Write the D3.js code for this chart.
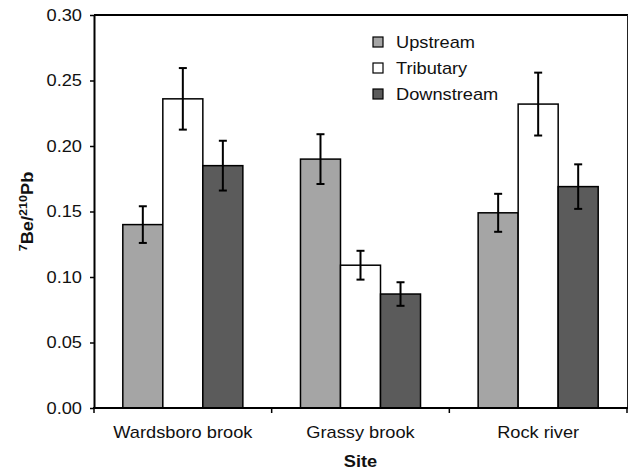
<!DOCTYPE html>
<html>
<head>
<meta charset="utf-8">
<script src="https://cdn.jsdelivr.net/npm/d3@7"></script>
<style>
  body { margin: 0; background: #fff; }
  text { font-family: "Liberation Sans", Arial, sans-serif; }
</style>
</head>
<body>
<div id="container"></div>
<script>
// data
let sites = ["Wardsboro brook", "Grassy brook", "Rock river"];
let seriesNames = ["Upstream", "Tributary", "Downstream"];
let upstream = [0.140, 0.190, 0.149];
let upstreamErr = [0.014, 0.019, 0.0145];
let tributary = [0.236, 0.109, 0.232];
let tributaryErr = [0.0235, 0.011, 0.024];
let downstream = [0.185, 0.087, 0.169];
let downstreamErr = [0.019, 0.009, 0.017];
let yTicks = [0, 0.05, 0.10, 0.15, 0.20, 0.25, 0.30];

let colors = ["#a5a5a5", "#ffffff", "#5b5b5b"];

let w = 629;
let h = 470;
let pLeft = 94, pRight = 627, pTop = 15, pBottom = 408;
let sx = 1.14; // text in the picture is a bit wider than plain Arial

let viz = d3.select("#container")
  .append("svg")
    .attr("width", w)
    .attr("height", h)
;

let values = [upstream, tributary, downstream];
let errs = [upstreamErr, tributaryErr, downstreamErr];

let rows = [];
sites.forEach(function(s, i){
  seriesNames.forEach(function(n, j){
    rows.push({site: s, series: n, value: values[j][i], err: errs[j][i], color: colors[j]});
  });
});

let xScale = d3.scaleBand().domain(sites).range([pLeft, pRight]).padding(0);
let inner = d3.scaleBand().domain(seriesNames).range([0, xScale.bandwidth()])
  .paddingInner(0).paddingOuter(0.72);
let yScale = d3.scaleLinear().domain([0, 0.30]).range([pBottom, pTop]);

// frame: top and right
viz.append("line")
  .attr("x1", pLeft).attr("x2", pRight + 1)
  .attr("y1", pTop).attr("y2", pTop)
  .attr("stroke", "#000").attr("stroke-width", 2);
viz.append("line")
  .attr("x1", pRight + 0.5).attr("x2", pRight + 0.5)
  .attr("y1", pTop).attr("y2", pBottom)
  .attr("stroke", "#222").attr("stroke-width", 1);

// bars
let graphgroup = viz.append("g").attr("class", "graphgroup");
graphgroup.selectAll(".bar").data(rows).enter()
  .append("rect")
    .attr("class", "bar")
    .attr("x", function(d){ return xScale(d.site) + inner(d.series); })
    .attr("y", function(d){ return yScale(d.value); })
    .attr("width", inner.bandwidth())
    .attr("height", function(d){ return yScale(0) - yScale(d.value); })
    .attr("fill", function(d){ return d.color; })
    .attr("stroke", "#000")
    .attr("stroke-width", 1.5)
;

// error bars
let eb = graphgroup.selectAll(".err").data(rows).enter()
  .append("g")
    .attr("class", "err")
    .attr("transform", function(d){
      return "translate(" + (xScale(d.site) + inner(d.series) + inner.bandwidth() / 2) + ",0)";
    })
;
eb.append("line")
  .attr("y1", function(d){ return yScale(d.value + d.err); })
  .attr("y2", function(d){ return yScale(d.value - d.err); })
  .attr("stroke", "#000").attr("stroke-width", 2);
eb.append("line")
  .attr("x1", -4).attr("x2", 4)
  .attr("y1", function(d){ return yScale(d.value + d.err); })
  .attr("y2", function(d){ return yScale(d.value + d.err); })
  .attr("stroke", "#000").attr("stroke-width", 2);
eb.append("line")
  .attr("x1", -4).attr("x2", 4)
  .attr("y1", function(d){ return yScale(d.value - d.err); })
  .attr("y2", function(d){ return yScale(d.value - d.err); })
  .attr("stroke", "#000").attr("stroke-width", 2);

// y axis
let yAxis = d3.axisLeft(yScale).tickValues(yTicks).tickFormat(d3.format(".2f"))
  .tickSizeInner(4).tickSizeOuter(0);
let yAxisGroup = viz.append("g")
    .attr("class", "yaxisgroup")
    .attr("transform", "translate(" + pLeft + ",0)")
;
yAxisGroup.call(yAxis);
yAxisGroup.select(".domain").attr("stroke-width", 2);
yAxisGroup.selectAll(".tick line").attr("stroke-width", 1.5);
yAxisGroup.selectAll(".tick text")
  .attr("x", 0)
  .attr("transform", "translate(-12,0) scale(" + sx + ",1)")
  .attr("font-size", 16)
  .attr("font-family", "Liberation Sans, Arial, sans-serif")
  .attr("fill", "#111");

// x axis with ticks at category boundaries
let xAxisGroup = viz.append("g")
    .attr("class", "xaxisgroup")
    .attr("transform", "translate(0," + pBottom + ")")
;
xAxisGroup.append("line")
  .attr("x1", pLeft - 1).attr("x2", pRight + 1)
  .attr("stroke", "#000").attr("stroke-width", 2);
let bounds = sites.map(function(s){ return xScale(s); }).concat([pRight]);
xAxisGroup.selectAll(".xtick").data(bounds).enter()
  .append("line")
    .attr("class", "xtick")
    .attr("x1", function(d){ return d; })
    .attr("x2", function(d){ return d; })
    .attr("y1", 0).attr("y2", 5)
    .attr("stroke", "#000").attr("stroke-width", 1.5);
xAxisGroup.selectAll(".xlabel").data(sites).enter()
  .append("text")
    .attr("class", "xlabel")
    .attr("transform", function(d){
      return "translate(" + (xScale(d) + xScale.bandwidth() / 2) + ",30) scale(" + sx + ",1)";
    })
    .attr("text-anchor", "middle")
    .attr("font-size", 16)
    .attr("fill", "#111")
    .text(function(d){ return d; });

// axis titles
viz.append("text")
  .attr("transform", "translate(" + ((pLeft + pRight) / 2) + ",467) scale(" + sx + ",1)")
  .attr("text-anchor", "middle")
  .attr("font-size", 16)
  .attr("font-weight", "bold")
  .attr("fill", "#111")
  .text("Site");

let yt = viz.append("text")
  .attr("transform", "translate(33," + ((pTop + pBottom) / 2) + ") rotate(-90) scale(" + sx + ",1)")
  .attr("text-anchor", "middle")
  .attr("font-size", 16)
  .attr("font-weight", "bold")
  .attr("fill", "#111");
yt.append("tspan").attr("font-size", 11).attr("dy", -6).text("7");
yt.append("tspan").attr("dy", 6).text("Be/");
yt.append("tspan").attr("font-size", 11).attr("dy", -6).text("210");
yt.append("tspan").attr("dy", 6).text("Pb");

// legend
let legend = viz.append("g").attr("class", "legend").attr("transform", "translate(373,37)");
let items = legend.selectAll(".item").data(seriesNames).enter()
  .append("g")
    .attr("class", "item")
    .attr("transform", function(d, i){ return "translate(0," + (i * 26) + ")"; })
;
items.append("rect")
  .attr("width", 10).attr("height", 10)
  .attr("fill", function(d, i){ return colors[i]; })
  .attr("stroke", "#000").attr("stroke-width", 1.2);
items.append("text")
  .attr("transform", "translate(23,11) scale(" + sx + ",1)")
  .attr("font-size", 16)
  .attr("fill", "#111")
  .text(function(d){ return d; });
</script>
</body>
</html>
